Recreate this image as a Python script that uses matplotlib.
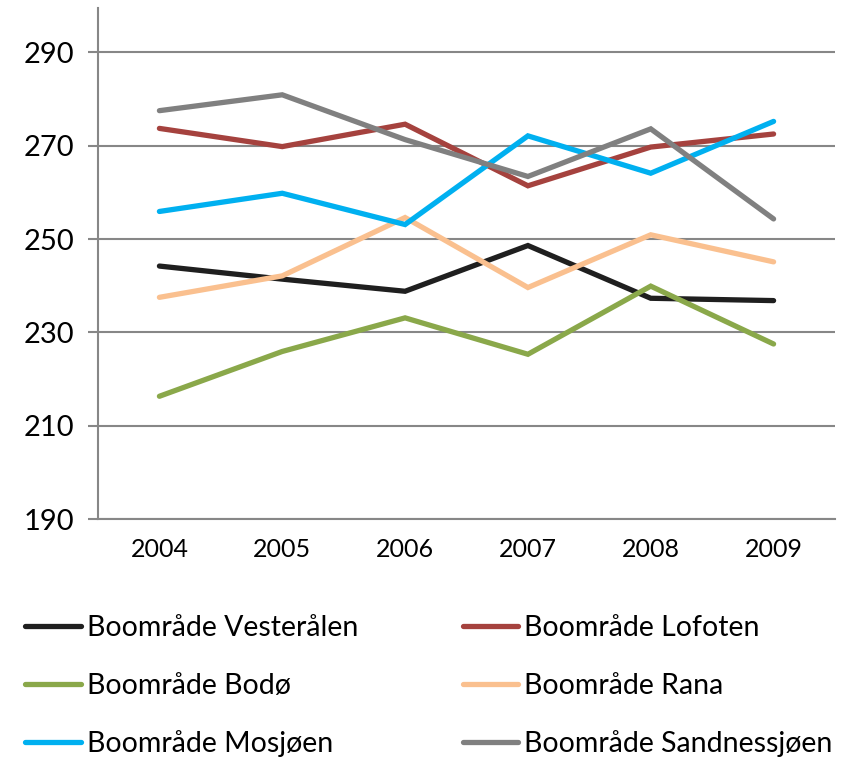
import matplotlib
matplotlib.use("Agg")
import matplotlib.pyplot as plt

years = ["2004", "2005", "2006", "2007", "2008", "2009"]
vesteralen = [244.2, 241.4, 238.8, 248.6, 237.3, 236.8]
lofoten = [273.7, 269.8, 274.6, 261.4, 269.7, 272.5]
bodo = [216.3, 225.9, 233.1, 225.3, 239.9, 227.5]
rana = [237.5, 242.1, 254.6, 239.6, 250.9, 245.1]
mosjoen = [255.9, 259.8, 253.1, 272.1, 264.1, 275.2]
sandnessjoen = [277.5, 280.9, 271.3, 263.4, 273.6, 254.3]

series_names = ["Boområde Vesterålen", "Boområde Lofoten", "Boområde Bodø",
                "Boområde Rana", "Boområde Mosjøen", "Boområde Sandnessjøen"]
series_vals = [vesteralen, lofoten, bodo, rana, mosjoen, sandnessjoen]
colors = ["#1f1f1f", "#a5423e", "#8aa84a", "#fac08f", "#00b0f0", "#808080"]
yticks = [190, 210, 230, 250, 270, 290]

plt.rcParams['font.family'] = ['Lato', 'DejaVu Sans']

fig = plt.figure(figsize=(8.5, 7.57), dpi=100)
ax = fig.add_axes([98/850, 1-519/757, (835-98)/850, (519-8)/757])

x = list(range(len(years)))
lines = {}
for name, vals, c in zip(series_names, series_vals, colors):
    ln, = ax.plot(x, vals, color=c, lw=3.8, solid_capstyle='round', solid_joinstyle='miter', label=name, zorder=3)
    lines[name] = ln

ax.set_xlim(-0.5, len(years)-0.5)
ax.set_ylim(190, 299.5)
ax.set_yticks(yticks)
ax.set_yticklabels([str(v) for v in yticks], fontsize=21)
ax.set_xticks(x)
ax.set_xticklabels(years, fontsize=18)
ax.yaxis.grid(True, color="#878787", lw=1.5, zorder=0)
ax.set_axisbelow(True)
for s in ["top", "right"]:
    ax.spines[s].set_visible(False)
ax.spines["left"].set_color("#878787")
ax.spines["left"].set_linewidth(1.5)
ax.spines["bottom"].set_color("#878787")
ax.spines["bottom"].set_linewidth(1.5)
ax.tick_params(axis='y', length=7, width=1.5, color="#878787", pad=10)
ax.tick_params(axis='x', length=0, pad=14)

order = [0, 2, 4, 1, 3, 5]
handles = [lines[series_names[i]] for i in order]
labels = [series_names[i] for i in order]
fig.legend(handles, labels, ncol=2, loc='upper left', bbox_to_anchor=(14/850, 1-604/757),
           frameon=False, fontsize=20.5, handlelength=1.95, handletextpad=0.2,
           columnspacing=3.68, labelspacing=1.1, borderaxespad=0)

fig.savefig("out.png", dpi=100)
